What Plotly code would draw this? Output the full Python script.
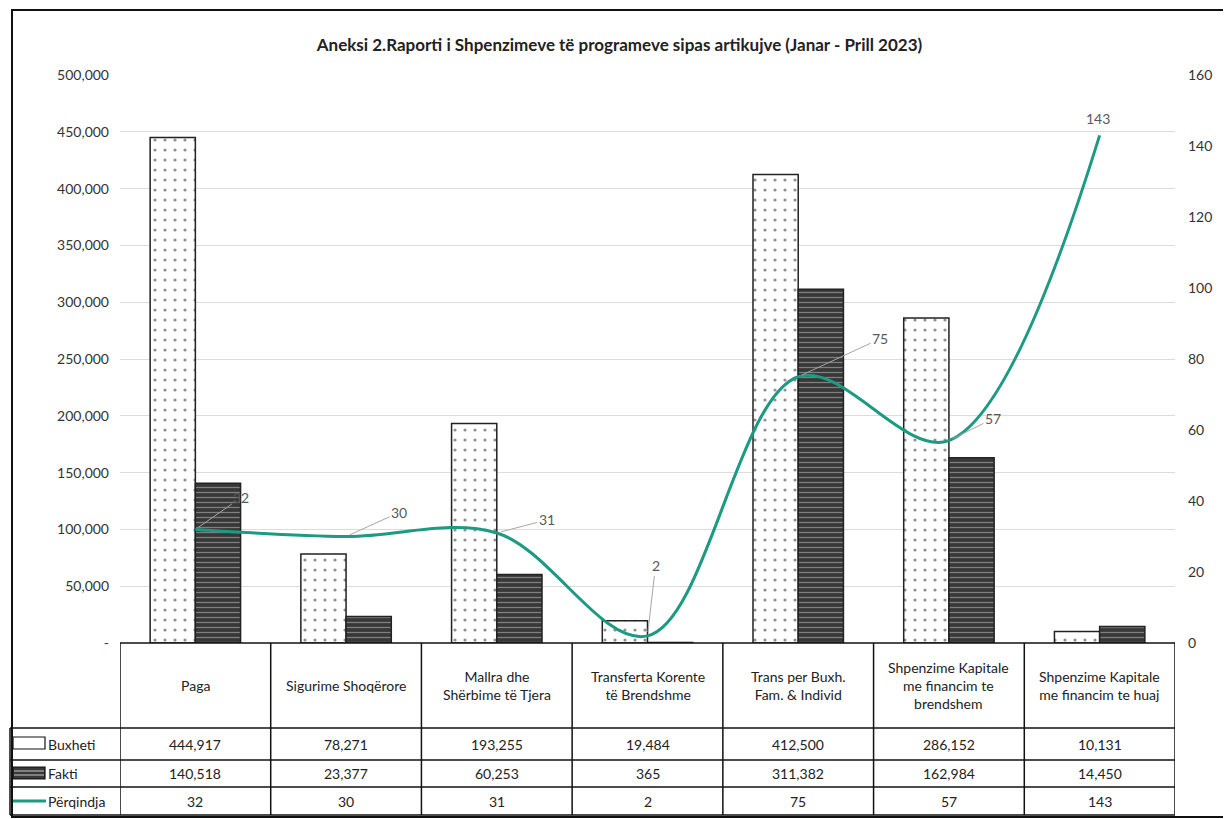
import plotly.graph_objects as go

# ── Data ──────────────────────────────────────────────────────────────────────
TITLE = "Aneksi 2.Raporti i Shpenzimeve të programeve sipas artikujve (Janar - Prill 2023)"
CATEGORIES = [
    "Paga",
    "Sigurime Shoqërore",
    "Mallra dhe<br>Shërbime të Tjera",
    "Transferta Korente<br>të Brendshme",
    "Trans per Buxh.<br>Fam. & Individ",
    "Shpenzime Kapitale<br>me financim te<br>brendshem",
    "Shpenzime Kapitale<br>me financim te huaj",
]
BUXHETI = [444917, 78271, 193255, 19484, 412500, 286152, 10131]
FAKTI = [140518, 23377, 60253, 365, 311382, 162984, 14450]
PERQINDJA = [32, 30, 31, 2, 75, 57, 143]
Y1_TICKS = [0, 50000, 100000, 150000, 200000, 250000, 300000, 350000, 400000, 450000, 500000]
Y1_LABELS = ["-", "50,000", "100,000", "150,000", "200,000", "250,000",
             "300,000", "350,000", "400,000", "450,000", "500,000"]

# ── Style ─────────────────────────────────────────────────────────────────────
W, H = 1231, 819
OFF = 8                                 # page body margin
L, R, T, B = 120, 56, 75, 176           # plot area edges, screen pixels
GREEN = "#1c9a82"
FONT = "Lato"
# (dx, dy, leader line?) for the line labels
LABEL_OFFSETS = [(46, -32, True), (53, -24, True), (50, -13, True), (8, -70, True),
                 (82, -38, True), (44, -22, True), (-2, -17, False)]

def px_x(x):
    return (x - L) / (W - L - R)

def px_y(y):
    return (H - B - y) / (H - T - B)

fig = go.Figure()
fig.add_bar(
    x=CATEGORIES, y=BUXHETI, name="Buxheti",
    marker=dict(color="white", line=dict(color="#222", width=1.5),
                pattern=dict(shape=".", fgcolor="#222", bgcolor="white", size=10, solidity=0.08)),
)
fig.add_bar(
    x=CATEGORIES, y=FAKTI, name="Fakti",
    marker=dict(color="#383838", line=dict(color="#222", width=1.5),
                pattern=dict(shape="-", fgcolor="#c8c8c8", bgcolor="#383838", size=5, solidity=0.25)),
)
fig.add_scatter(
    x=CATEGORIES, y=PERQINDJA, name="Përqindja", yaxis="y2", mode="lines",
    line=dict(color=GREEN, width=3, shape="spline", smoothing=1.0),
)

# line value labels with leader lines
for cat, v, (dx, dy, lead) in zip(CATEGORIES, PERQINDJA, LABEL_OFFSETS):
    if lead:
        fig.add_annotation(
            x=cat, y=v, yref="y2", text=str(v), ax=dx, ay=dy,
            showarrow=True, arrowhead=0, arrowwidth=1, arrowcolor="#a6a6a6",
            standoff=4, font=dict(size=14, color="#595959", family=FONT),
        )
    else:
        fig.add_annotation(
            x=cat, y=v, yref="y2", text=str(v), showarrow=False,
            xshift=dx, yshift=-dy, font=dict(size=14, color="#595959", family=FONT),
        )

# ── Data table under the chart ───────────────────────────────────────────────
rows_px = [643, 728, 760, 787, 815]
line_style = dict(color="#111", width=1.5)
shapes = []
shapes.append(dict(type="line", xref="paper", yref="paper", x0=0, x1=1,
                   y0=px_y(rows_px[0]), y1=px_y(rows_px[0]), line=line_style))
for yp in rows_px[1:]:
    shapes.append(dict(type="line", xref="paper", yref="paper", x0=px_x(10), x1=1,
                       y0=px_y(yp), y1=px_y(yp), line=line_style))
for i in range(len(CATEGORIES) + 1):
    shapes.append(dict(type="line", xref="x", yref="paper", x0=i - 0.5, x1=i - 0.5,
                       y0=px_y(rows_px[0]), y1=px_y(rows_px[-1]), line=line_style))
shapes.append(dict(type="line", xref="paper", yref="paper", x0=px_x(10), x1=px_x(10),
                   y0=px_y(rows_px[1]), y1=px_y(rows_px[-1]), line=line_style))
# legend keys
shapes.append(dict(type="rect", xref="paper", yref="paper", x0=px_x(13), x1=px_x(45),
                   y0=px_y(737), y1=px_y(749), fillcolor="white", line=dict(color="#111", width=1.2)))
shapes.append(dict(type="rect", xref="paper", yref="paper", x0=px_x(13), x1=px_x(45),
                   y0=px_y(767), y1=px_y(779), fillcolor="#383838", line=dict(color="#111", width=1.2)))
for yp in (771, 775):
    shapes.append(dict(type="line", xref="paper", yref="paper", x0=px_x(14), x1=px_x(44),
                       y0=px_y(yp), y1=px_y(yp), line=dict(color="#c8c8c8", width=1)))
shapes.append(dict(type="line", xref="paper", yref="paper", x0=px_x(13), x1=px_x(46),
                   y0=px_y(801), y1=px_y(801), line=dict(color=GREEN, width=3)))
# outer frame
shapes.append(dict(type="rect", xref="paper", yref="paper", x0=px_x(12), x1=px_x(1225),
                   y0=px_y(817), y1=px_y(10), line=dict(color="#111", width=2)))

table_font = dict(size=14, color="#222", family=FONT)
for cat, b, f, p in zip(CATEGORIES, BUXHETI, FAKTI, PERQINDJA):
    for txt, y0, y1 in ((cat, rows_px[0], rows_px[1]), (f"{b:,}", rows_px[1], rows_px[2]),
                        (f"{f:,}", rows_px[2], rows_px[3]), (str(p), rows_px[3], rows_px[4])):
        fig.add_annotation(x=cat, y=px_y((y0 + y1) / 2), yref="paper", text=txt,
                           showarrow=False, font=table_font, yanchor="middle")
for name, y0, y1 in (("Buxheti", rows_px[1], rows_px[2]), ("Fakti", rows_px[2], rows_px[3]),
                     ("Përqindja", rows_px[3], rows_px[4])):
    fig.add_annotation(x=px_x(46), xref="paper", xanchor="left", y=px_y((y0 + y1) / 2),
                       yref="paper", yanchor="middle", text=name, showarrow=False, font=table_font)

fig.update_layout(
    width=W - OFF, height=H - OFF,
    margin=dict(l=L - OFF, r=R, t=T - OFF, b=B),
    paper_bgcolor="white", plot_bgcolor="white",
    font=dict(family=FONT, size=14, color="#333"),
    title=dict(text=f"<b>{TITLE}</b>", x=0.5, xanchor="center", y=1 - (45 - OFF) / (H - OFF),
               yanchor="middle", font=dict(size=17, color="#222", family=FONT)),
    showlegend=False,
    barmode="group", bargap=0.4, bargroupgap=0,
    shapes=shapes,
    xaxis=dict(showticklabels=False, showline=False, showgrid=False, zeroline=False,
               range=[-0.5, len(CATEGORIES) - 0.5]),
    yaxis=dict(range=[0, 500000], tickvals=Y1_TICKS, ticktext=Y1_LABELS,
               showgrid=True, gridcolor="#dcdcdc", gridwidth=1, zeroline=False,
               showline=False, ticks="", ticklabelstandoff=10),
    yaxis2=dict(range=[0, 160], dtick=20, overlaying="y", side="right",
                showgrid=False, zeroline=False, showline=False, ticks="",
                ticklabelstandoff=12),
)

fig.write_html("out.html")
